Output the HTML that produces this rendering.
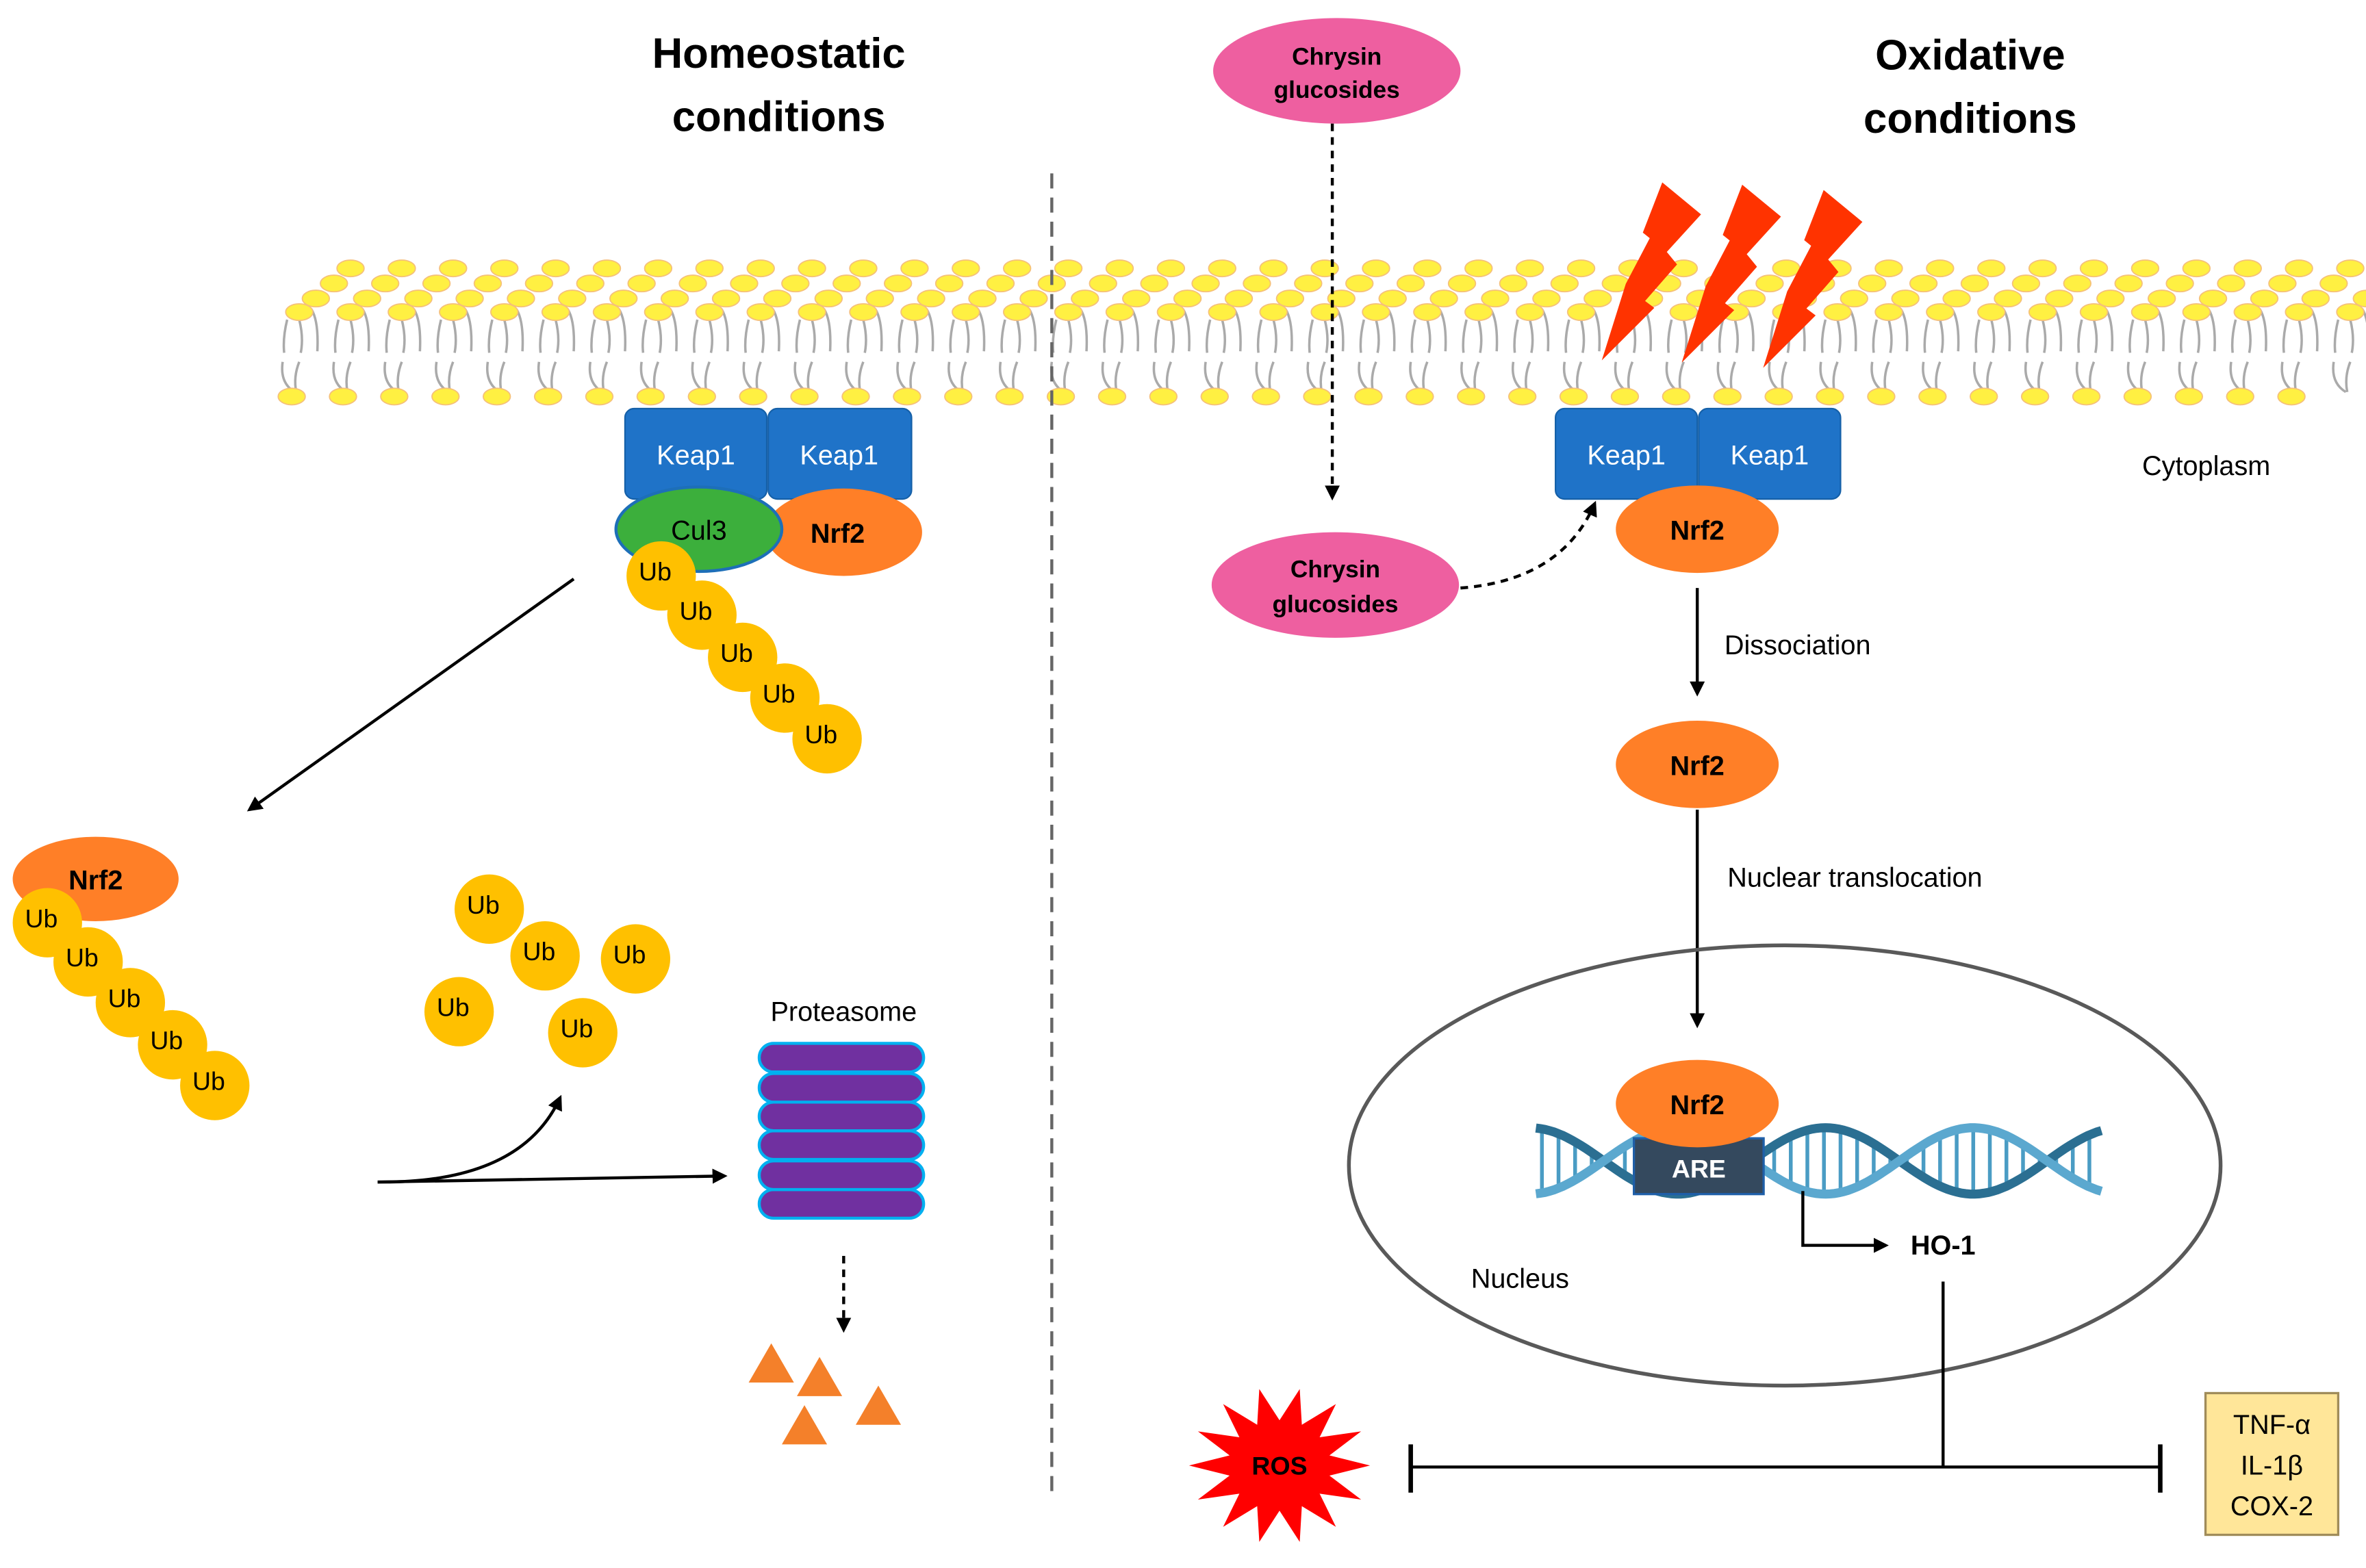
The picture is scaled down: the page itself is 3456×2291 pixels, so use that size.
<!DOCTYPE html>
<html><head><meta charset="utf-8"><style>
html,body{margin:0;padding:0;background:#fff;}
svg{display:block;}
text{font-family:"Liberation Sans",sans-serif;}
</style></head><body>
<svg id="s" width="3456" height="2291" viewBox="0 0 1568 1040" xmlns="http://www.w3.org/2000/svg">
<defs>
<marker id="ah" markerWidth="10" markerHeight="10" refX="8" refY="5" orient="auto" markerUnits="userSpaceOnUse"><path d="M0,0 L10,5 L0,10 z" fill="#000"/></marker>
</defs>
<rect width="1568" height="1040" fill="#fff"/>
<g id="mem"></g>

<text x="516" y="45" font-size="28" font-weight="bold" text-anchor="middle">Homeostatic</text>
<text x="516" y="87" font-size="28" font-weight="bold" text-anchor="middle">conditions</text>
<text x="1306" y="46" font-size="28" font-weight="bold" text-anchor="middle">Oxidative</text>
<text x="1306" y="88" font-size="28" font-weight="bold" text-anchor="middle">conditions</text>

<line x1="697" y1="115" x2="697" y2="990" stroke="#666" stroke-width="2" stroke-dasharray="10,6"/>

<g fill="#FF3300">
<polygon points="1101.8,121 1127.5,142.2 1104.8,167.1 1111.6,175.4 1090.4,199.6 1096.5,204.2 1061.7,239 1077.6,188.3 1093.5,158 1088.9,154.3"/>
<polygon transform="translate(53,1.5)" points="1101.8,121 1127.5,142.2 1104.8,167.1 1111.6,175.4 1090.4,199.6 1096.5,204.2 1061.7,239 1077.6,188.3 1093.5,158 1088.9,154.3"/>
<polygon transform="translate(107,5)" points="1101.8,121 1127.5,142.2 1104.8,167.1 1111.6,175.4 1090.4,199.6 1096.5,204.2 1061.7,239 1077.6,188.3 1093.5,158 1088.9,154.3"/>
</g>

<ellipse cx="886" cy="47" rx="82" ry="35" fill="#EE5FA0"/>
<text x="886" y="43" font-size="16" font-weight="bold" text-anchor="middle">Chrysin</text>
<text x="886" y="65" font-size="16" font-weight="bold" text-anchor="middle">glucosides</text>
<line x1="883" y1="82" x2="883" y2="330" stroke="#000" stroke-width="2" stroke-dasharray="5,4" marker-end="url(#ah)"/>
<ellipse cx="885" cy="388" rx="82" ry="35" fill="#EE5FA0"/>
<text x="885" y="383" font-size="16" font-weight="bold" text-anchor="middle">Chrysin</text>
<text x="885" y="406" font-size="16" font-weight="bold" text-anchor="middle">glucosides</text>
<path d="M968,390 Q1035,385 1057,334" fill="none" stroke="#000" stroke-width="2" stroke-dasharray="5,4" marker-end="url(#ah)"/>

<g font-size="18" text-anchor="middle">
<rect x="414" y="271" width="94" height="60" rx="6" fill="#1F73C8" stroke="#1560A8"/>
<rect x="509" y="271" width="95" height="60" rx="6" fill="#1F73C8" stroke="#1560A8"/>
<text x="461" y="308" fill="#fff">Keap1</text>
<text x="556" y="308" fill="#fff">Keap1</text>
<ellipse cx="559" cy="353" rx="52" ry="29" fill="#FF7F27"/>
<text x="555" y="360" font-weight="bold">Nrf2</text>
<ellipse cx="463" cy="351" rx="55" ry="28" fill="#3CAF3C" stroke="#1D6FB8" stroke-width="2"/>
<text x="463" y="358">Cul3</text>
</g>
<ellipse cx="63" cy="583" rx="55" ry="28" fill="#FF7F27"/>
<text x="63" y="590" font-size="18" font-weight="bold" text-anchor="middle">Nrf2</text>
<g id="ubs" font-size="17" text-anchor="middle"></g>

<line x1="380" y1="384" x2="165" y2="537" stroke="#000" stroke-width="2" marker-end="url(#ah)"/>

<line x1="250" y1="784" x2="480" y2="780" stroke="#000" stroke-width="2" marker-end="url(#ah)"/>
<path d="M250,784 Q345,785 371,728" fill="none" stroke="#000" stroke-width="2" marker-end="url(#ah)"/>
<text x="559" y="677" font-size="18" text-anchor="middle">Proteasome</text>
<g fill="#7030A0" stroke="#00B0F0" stroke-width="2">
<rect x="503" y="789" width="109" height="19" rx="9.5"/>
<rect x="503" y="770" width="109" height="19" rx="9.5"/>
<rect x="503" y="750" width="109" height="19" rx="9.5"/>
<rect x="503" y="731" width="109" height="19" rx="9.5"/>
<rect x="503" y="712" width="109" height="19" rx="9.5"/>
<rect x="503" y="692" width="109" height="19" rx="9.5"/>
</g>
<line x1="559" y1="833" x2="559" y2="882" stroke="#000" stroke-width="2" stroke-dasharray="5,4" marker-end="url(#ah)"/>
<g fill="#F4802A">
<polygon points="511,891 526,917 496,917"/>
<polygon points="543,900 558,926 528,926"/>
<polygon points="533,932 548,958 518,958"/>
<polygon points="582,919 597,945 567,945"/>
</g>

<g font-size="18" text-anchor="middle">
<rect x="1031" y="271" width="94" height="60" rx="6" fill="#1F73C8" stroke="#1560A8"/>
<rect x="1126" y="271" width="94" height="60" rx="6" fill="#1F73C8" stroke="#1560A8"/>
<text x="1078" y="308" fill="#fff">Keap1</text>
<text x="1173" y="308" fill="#fff">Keap1</text>
<ellipse cx="1125" cy="351" rx="54" ry="29" fill="#FF7F27"/>
<text x="1125" y="358" font-weight="bold">Nrf2</text>
<ellipse cx="1125" cy="507" rx="54" ry="29" fill="#FF7F27"/>
<text x="1125" y="514" font-weight="bold">Nrf2</text>
</g>
<line x1="1125" y1="390" x2="1125" y2="460" stroke="#000" stroke-width="2" marker-end="url(#ah)"/>
<text x="1143" y="434" font-size="18">Dissociation</text>
<line x1="1125" y1="537" x2="1125" y2="680" stroke="#000" stroke-width="2" marker-end="url(#ah)"/>
<text x="1145" y="588" font-size="18">Nuclear translocation</text>
<text x="1420" y="315" font-size="18">Cytoplasm</text>

<ellipse cx="1183" cy="773" rx="289" ry="146" fill="none" stroke="#595959" stroke-width="2.5"/>
<text x="975" y="854" font-size="18">Nucleus</text>
<g id="dna"></g>
<rect x="1083" y="755" width="86" height="37" fill="#34495E" stroke="#1F5FA8" stroke-width="1.5"/>
<text x="1126" y="781" font-size="17" font-weight="bold" fill="#fff" text-anchor="middle">ARE</text>
<ellipse cx="1125" cy="732" rx="54" ry="29" fill="#FF7F27"/>
<text x="1125" y="739" font-size="18" font-weight="bold" text-anchor="middle">Nrf2</text>

<path d="M1195,790 L1195,826 L1250,826" fill="none" stroke="#000" stroke-width="2" marker-end="url(#ah)"/>
<text x="1288" y="832" font-size="18" font-weight="bold" text-anchor="middle">HO-1</text>
<line x1="1288" y1="850" x2="1288" y2="973" stroke="#000" stroke-width="2"/>
<line x1="935" y1="973" x2="1432" y2="973" stroke="#000" stroke-width="2"/>
<line x1="935" y1="958" x2="935" y2="990" stroke="#000" stroke-width="3"/>
<line x1="1432" y1="958" x2="1432" y2="990" stroke="#000" stroke-width="3"/>

<g id="ros"></g>
<text x="848" y="978" font-size="17" font-weight="bold" text-anchor="middle">ROS</text>

<rect x="1462" y="924" width="88" height="94" fill="#FFE699" stroke="#A08C5A" stroke-width="1.5"/>
<g font-size="18" text-anchor="middle">
<text x="1506" y="951">TNF-α</text>
<text x="1506" y="978">IL-1β</text>
<text x="1506" y="1005">COX-2</text>
</g>
</svg>
<script>
var NS="http://www.w3.org/2000/svg";
function el(t,a,p){var e=document.createElementNS(NS,t);for(var k in a)e.setAttribute(k,a[k]);(p||document.getElementById('s')).appendChild(e);return e;}
var mem=document.getElementById('mem');
for(var x=190;x<1560;x+=34){
 el('path',{d:'M'+(x)+',212 q-3,12 -2,22 M'+(x+8)+',212 q3,12 1,22 M'+(x+16)+',205 q5,8 4,28',fill:'none',stroke:'#aaa','stroke-width':1.6},mem);
 el('path',{d:'M'+(x-3)+',240 q-2,14 8,20 M'+(x+8)+',240 q-4,10 -2,20',fill:'none',stroke:'#aaa','stroke-width':1.6},mem);
}
var rows=[[178,232],[188,221],[198,209],[207,198]];
rows.forEach(function(r){for(var x=r[1];x<1570;x+=34){el('ellipse',{cx:x,cy:r[0],rx:9,ry:5.5,fill:'#FFF042',stroke:'#F5C07A','stroke-width':0.8},mem);}});
for(var x=193;x<1530;x+=34){el('ellipse',{cx:x,cy:263,rx:9,ry:5.5,fill:'#FFF042',stroke:'#F5C07A','stroke-width':0.8},mem);}
var ub=[[438,382],[465,408],[492,436],[520,463],[548,490],[31,612],[58,638],[86,665],[114,693],[142,720],[324,603],[361,634],[421,636],[304,671],[386,685]];
var g=document.getElementById('ubs');
ub.forEach(function(p){el('circle',{cx:p[0],cy:p[1],r:23,fill:'#FFC000'},g);var t=el('text',{x:p[0]-4,y:p[1]+3},g);t.textContent='Ub';});
var d=document.getElementById('dna');var a='',b='';
for(var x=1018;x<=1395;x+=3){var y1=770+22*Math.sin((x-1063)/98*Math.PI),y2=770-22*Math.sin((x-1063)/98*Math.PI);a+=(x==1018?'M':'L')+x+','+y1.toFixed(1);b+=(x==1018?'M':'L')+x+','+y2.toFixed(1);}
for(var x=1022;x<=1392;x+=11){var y1=770+22*Math.sin((x-1063)/98*Math.PI);el('line',{x1:x,y1:y1,x2:x,y2:1540-y1,stroke:'#4A9CC4','stroke-width':2.5},d);}
el('path',{d:a,fill:'none',stroke:'#2B6F92','stroke-width':6},d);
el('path',{d:b,fill:'none',stroke:'#5BA8CF','stroke-width':6},d);
var pts='';var n=14;for(var i=0;i<2*n;i++){var ang=i*Math.PI/n;var R=i%2?34:60;var ry=i%2?30:52;pts+=(848+R*Math.cos(ang)).toFixed(1)+','+(972+ry*Math.sin(ang)).toFixed(1)+' ';}
el('polygon',{points:pts,fill:'#FF0000'},document.getElementById('ros'));
</script>
</body></html>
